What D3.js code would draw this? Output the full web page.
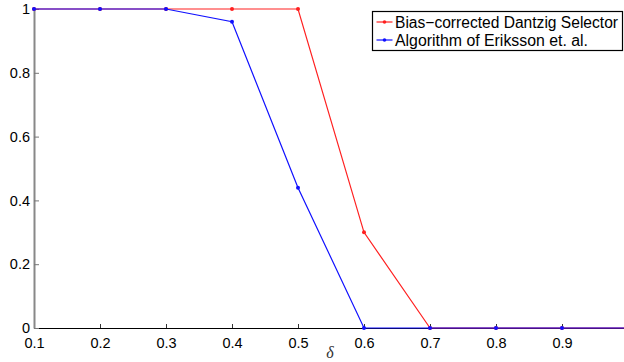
<!DOCTYPE html>
<html>
<head>
<meta charset="utf-8">
<script src="https://cdn.jsdelivr.net/npm/d3@7"></script>
<style>
  html, body { margin: 0; padding: 0; background: #fff; }
  svg { display: block; font-family: "Liberation Sans", Arial, sans-serif; }
</style>
</head>
<body>
<svg id="chart" width="624" height="362"></svg>
<script>
// data
const deltas = [0.1, 0.2, 0.3, 0.4, 0.5, 0.6, 0.7, 0.8, 0.9, 1.0];
const biasCorrected = [1, 1, 1, 1, 1, 0.3, 0, 0, 0, 0];
const eriksson = [1, 1, 1, 0.96, 0.44, 0, 0, 0, 0, 0];
const xTicks = [0.1, 0.2, 0.3, 0.4, 0.5, 0.6, 0.7, 0.8, 0.9];
const yTicks = [0, 0.2, 0.4, 0.6, 0.8, 1];
const seriesNames = ["Bias\u2212corrected Dantzig Selector", "Algorithm of Eriksson et. al."];

const svg = d3.select("#chart");
const plotLeft = 34, plotRight = 628, plotTop = 9, plotBottom = 328;

const x = d3.scaleLinear().domain([0.1, 1.0]).range([plotLeft, plotRight]);
const y = d3.scaleLinear().domain([0, 1]).range([plotBottom, plotTop]);

// axes (MATLAB style, ticks pointing inward)
const xAxis = svg.append("g").attr("transform", `translate(0,${plotBottom})`)
    .call(d3.axisBottom(x).tickValues(xTicks).tickSizeInner(-4).tickSizeOuter(0).tickPadding(10)
        .tickFormat(d3.format(".1f")));
xAxis.select(".domain").attr("stroke", "#000").attr("stroke-width", 1.2);
xAxis.selectAll(".tick line").attr("stroke", "#333");
xAxis.selectAll("text").attr("font-size", 14.5).attr("fill", "#000");

const yAxis = svg.append("g").attr("transform", `translate(${plotLeft},0)`)
    .call(d3.axisLeft(y).tickValues(yTicks).tickSizeInner(-5).tickSizeOuter(0).tickPadding(4)
        .tickFormat(d => d === 0 || d === 1 ? d3.format("d")(d) : d3.format(".1f")(d)));
yAxis.select(".domain").attr("stroke", "#888").attr("stroke-width", 2);
yAxis.selectAll(".tick line").attr("stroke", "#777");
yAxis.selectAll("text").attr("font-size", 14.5).attr("fill", "#000");

svg.append("text")
    .attr("x", 330).attr("y", 358)
    .attr("text-anchor", "middle")
    .attr("font-family", "Liberation Serif, serif")
    .attr("font-style", "italic")
    .attr("font-size", 16)
    .attr("fill", "#333")
    .text("\u03b4");

const line = d3.line().x((d, i) => x(deltas[i])).y(d => y(d));
const series = [
    { values: biasCorrected, color: "#ff2020" },
    { values: eriksson, color: "#1010ff" }
];

series.forEach(s => {
    svg.append("path")
        .datum(s.values)
        .attr("fill", "none")
        .attr("stroke", s.color)
        .attr("stroke-width", 1.2)
        .attr("d", line);
    svg.append("g").selectAll("circle")
        .data(s.values)
        .join("circle")
        .attr("cx", (d, i) => x(deltas[i]))
        .attr("cy", d => y(d))
        .attr("r", 2)
        .attr("fill", s.color);
});

// legend
const legendTextWidths = [223, 193];
const legend = svg.append("g").attr("transform", "translate(372.5,11.5)");
legend.append("rect")
    .attr("x", 0).attr("y", 0).attr("width", 250).attr("height", 39)
    .attr("fill", "#fff").attr("stroke", "#000").attr("stroke-width", 1.2);
series.forEach((s, i) => {
    const ly = 10.5 + i * 18;
    legend.append("line")
        .attr("x1", 4).attr("x2", 20).attr("y1", ly).attr("y2", ly)
        .attr("stroke", s.color).attr("stroke-width", 1.2);
    legend.append("circle").attr("cx", 12).attr("cy", ly).attr("r", 1.8).attr("fill", s.color);
    legend.append("text")
        .attr("x", 22.5).attr("y", ly + 5.5)
        .attr("font-size", 16)
        .attr("fill", "#000")
        .attr("textLength", legendTextWidths[i])
        .attr("lengthAdjust", "spacingAndGlyphs")
        .text(seriesNames[i]);
});
</script>
</body>
</html>
